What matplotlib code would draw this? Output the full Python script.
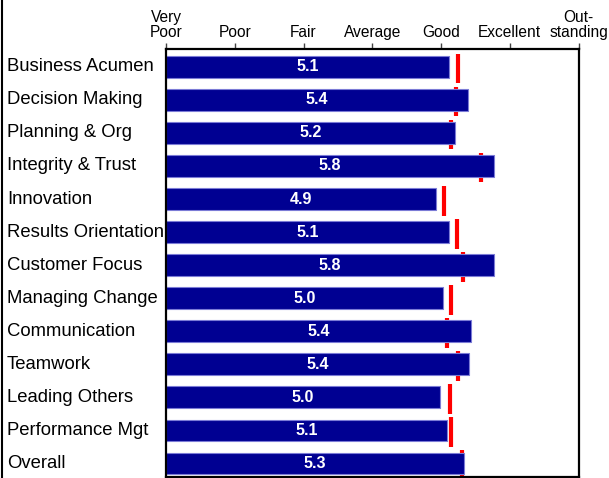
import matplotlib
matplotlib.use("Agg")
import matplotlib.pyplot as plt
from matplotlib.lines import Line2D
from matplotlib.transforms import blended_transform_factory
import numpy as np

categories = ["Business Acumen", "Decision Making", "Planning & Org", "Integrity & Trust",
              "Innovation", "Results Orientation", "Customer Focus", "Managing Change",
              "Communication", "Teamwork", "Leading Others", "Performance Mgt", "Overall"]
scores = [5.12, 5.39, 5.21, 5.77, 4.92, 5.12, 5.77, 5.03, 5.44, 5.41, 4.98, 5.09, 5.34]
norms = [5.24, 5.22, 5.14, 5.58, 5.04, 5.23, 5.32, 5.14, 5.09, 5.25, 5.13, 5.14, 5.30]
scale_values = [1, 2, 3, 4, 5, 6, 7]
scale_labels = ["Very\nPoor", "Poor", "Fair", "Average", "Good", "Excellent", "Out-\nstanding"]

plt.rcParams['font.family'] = ['Liberation Sans', 'DejaVu Sans']

fig = plt.figure(figsize=(6.09, 4.78), dpi=100)
ax = fig.add_axes([166/609, 1-476.7/478, (578.5-166)/609, (476.7-48.5)/478])

y = np.arange(len(categories))
base = scale_values[0]

# red norm markers (behind bars)
ax.vlines(norms, y - 0.40, y + 0.50, colors='#ff0000', linewidth=3.0, zorder=1)

vals = np.array(scores)
ax.barh(y, vals - base, left=base, height=0.66, color='#000092',
        edgecolor='#7b7bd6', linewidth=0.8, zorder=2)

for yi, v in zip(y, scores):
    ax.text(base + (v - base) / 2, yi, f"{v:.1f}", color='white', fontsize=11.6,
            fontweight='bold', ha='center', va='center', zorder=3)

ax.set_xlim(scale_values[0], scale_values[-1])
ax.set_ylim(12.40, -0.553)

ax.xaxis.tick_top()
ax.set_xticks(scale_values)
ax.set_xticklabels(scale_labels, fontsize=11.2, linespacing=1.05)
ax.tick_params(axis='x', direction='out', length=4, width=1, color='#444444', pad=2)
ax.set_yticks([])

for s in ax.spines.values():
    s.set_linewidth(1.6)
    s.set_color('black')

trans = blended_transform_factory(fig.transFigure, ax.transData)
for yi, c in zip(y, categories):
    ax.text(7/609, yi, c, transform=trans, fontsize=13.3, ha='left', va='center',
            clip_on=False)

fig.add_artist(Line2D([1.5/609, 1.5/609], [0, 1], transform=fig.transFigure,
                      color='black', linewidth=1.5))

fig.savefig("out.png", dpi=100)
